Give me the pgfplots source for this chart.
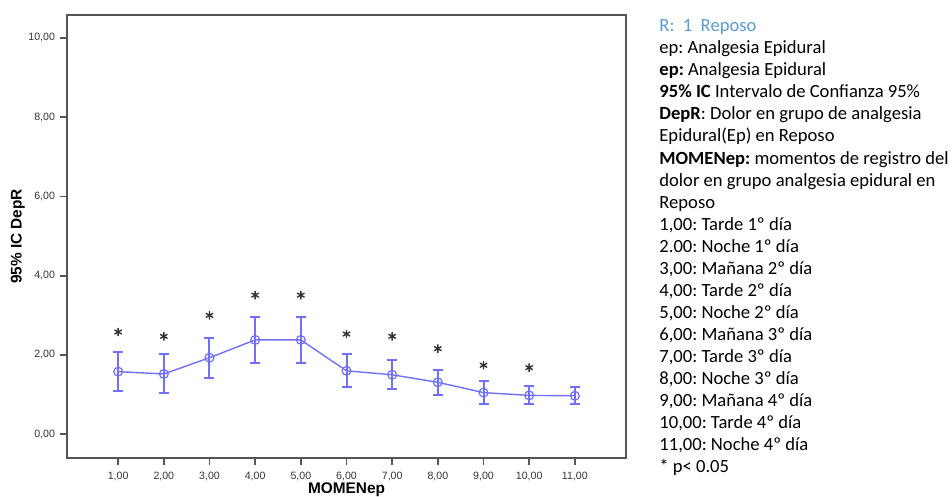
\documentclass[border=0pt]{standalone}
\usepackage{fontspec}
\usepackage{pgfplots}
\usepackage{pgfplotstable}
\pgfplotsset{compat=1.18}
\setmainfont{Carlito}
\newfontfamily\arial{Liberation Sans}
\newfontfamily\carlito{Carlito}
\definecolor{serie}{RGB}{112,112,250}
\definecolor{rblue}{RGB}{91,155,213}
\definecolor{frame}{RGB}{85,85,85}

\pgfplotstableread{
x y ep em
1 1.58 0.49 0.48
2 1.52 0.50 0.48
3 1.93 0.50 0.50
4 2.38 0.59 0.59
5 2.38 0.59 0.59
6 1.60 0.42 0.41
7 1.50 0.38 0.37
8 1.31 0.31 0.32
9 1.05 0.29 0.28
10 0.98 0.23 0.22
11 0.97 0.22 0.21
}\means

\pgfplotstableread{
x s
1 2.58
2 2.47
3 3.00
4 3.51
5 3.51
6 2.53
7 2.47
8 2.16
9 1.74
10 1.68
}\stars

\begin{document}
\begin{tikzpicture}
\begin{axis}[
  scale only axis,
  width=279.5pt, height=221.5pt,
  xmin=-0.12, xmax=12.12,
  ymin=-0.6, ymax=10.58,
  xtick={1,2,...,11},
  ytick={0,2,4,6,8,10},
  tick pos=left,
  tick align=outside,
  major tick length=3.5pt,
  tick style={frame, line width=0.8pt},
  axis line style={frame, line width=0.8pt},
  /pgf/number format/.cd, fixed, fixed zerofill, precision=2, use comma, assume math mode=true,
  /pgfplots/.cd,
  ticklabel style={font=\arial\fontsize{5.3}{6}\selectfont, text=black!80},
  yticklabel style={xshift=1pt},
  xlabel={MOMENep},
  ylabel={95\% IC DepR},
  label style={font=\arial\bfseries\fontsize{7.7}{8}\selectfont},
  xlabel style={at={(axis description cs:0.5,-0.0722)}, anchor=center},
  ylabel style={at={(axis description cs:-0.0877,0.5)}, anchor=center},
  clip=false,
]
\addplot[serie, line width=0.7pt, mark=o, mark size=2.2pt,
  mark options={line width=0.6pt},
  error bars/.cd, y dir=both, y explicit,
  error bar style={serie, line width=1pt},
  error mark options={rotate=90, mark size=2.5pt, line width=1pt, serie}]
  table[x=x, y=y, y error plus=ep, y error minus=em]{\means};
\addplot[only marks, mark=asterisk, mark size=2.1pt, black!80, mark options={line width=0.7pt}]
  table[x=x, y=s]{\stars};
\end{axis}
\node[anchor=base west, inner sep=0pt] at ([xshift=16.5pt, yshift=-8.35pt]current axis.north east) {%
\begin{minipage}[t]{170pt}\carlito\fontsize{9.3}{11.03}\selectfont\raggedright\frenchspacing\parindent=0pt
\leavevmode\textcolor{rblue}{R:\ \ 1\ \ Reposo}\\
ep: Analgesia Epidural\\
\textbf{ep:} Analgesia Epidural\\
\textbf{95\% IC} Intervalo de Confianza 95\%\\
\textbf{DepR}: Dolor en grupo de analgesia\\
Epidural(Ep) en Reposo\\
\textbf{MOMENep:} momentos de registro del\\
dolor en grupo analgesia epidural en\\
Reposo\\
1,00: Tarde 1º día\\
2.00: Noche 1º día\\
3,00: Mañana 2º día\\
4,00: Tarde 2º día\\
5,00: Noche 2º día\\
6,00: Mañana 3º día\\
7,00: Tarde 3º día\\
8,00: Noche 3º día\\
9,00: Mañana 4º día\\
10,00: Tarde 4º día\\
11,00: Noche 4º día\\
{*} p< 0.05
\end{minipage}};
\pgfresetboundingbox
\path[use as bounding box] ([xshift=-33.5pt, yshift=-19.5pt]current axis.south west) rectangle ([xshift=163pt, yshift=7.5pt]current axis.north east);
\end{tikzpicture}
\end{document}
